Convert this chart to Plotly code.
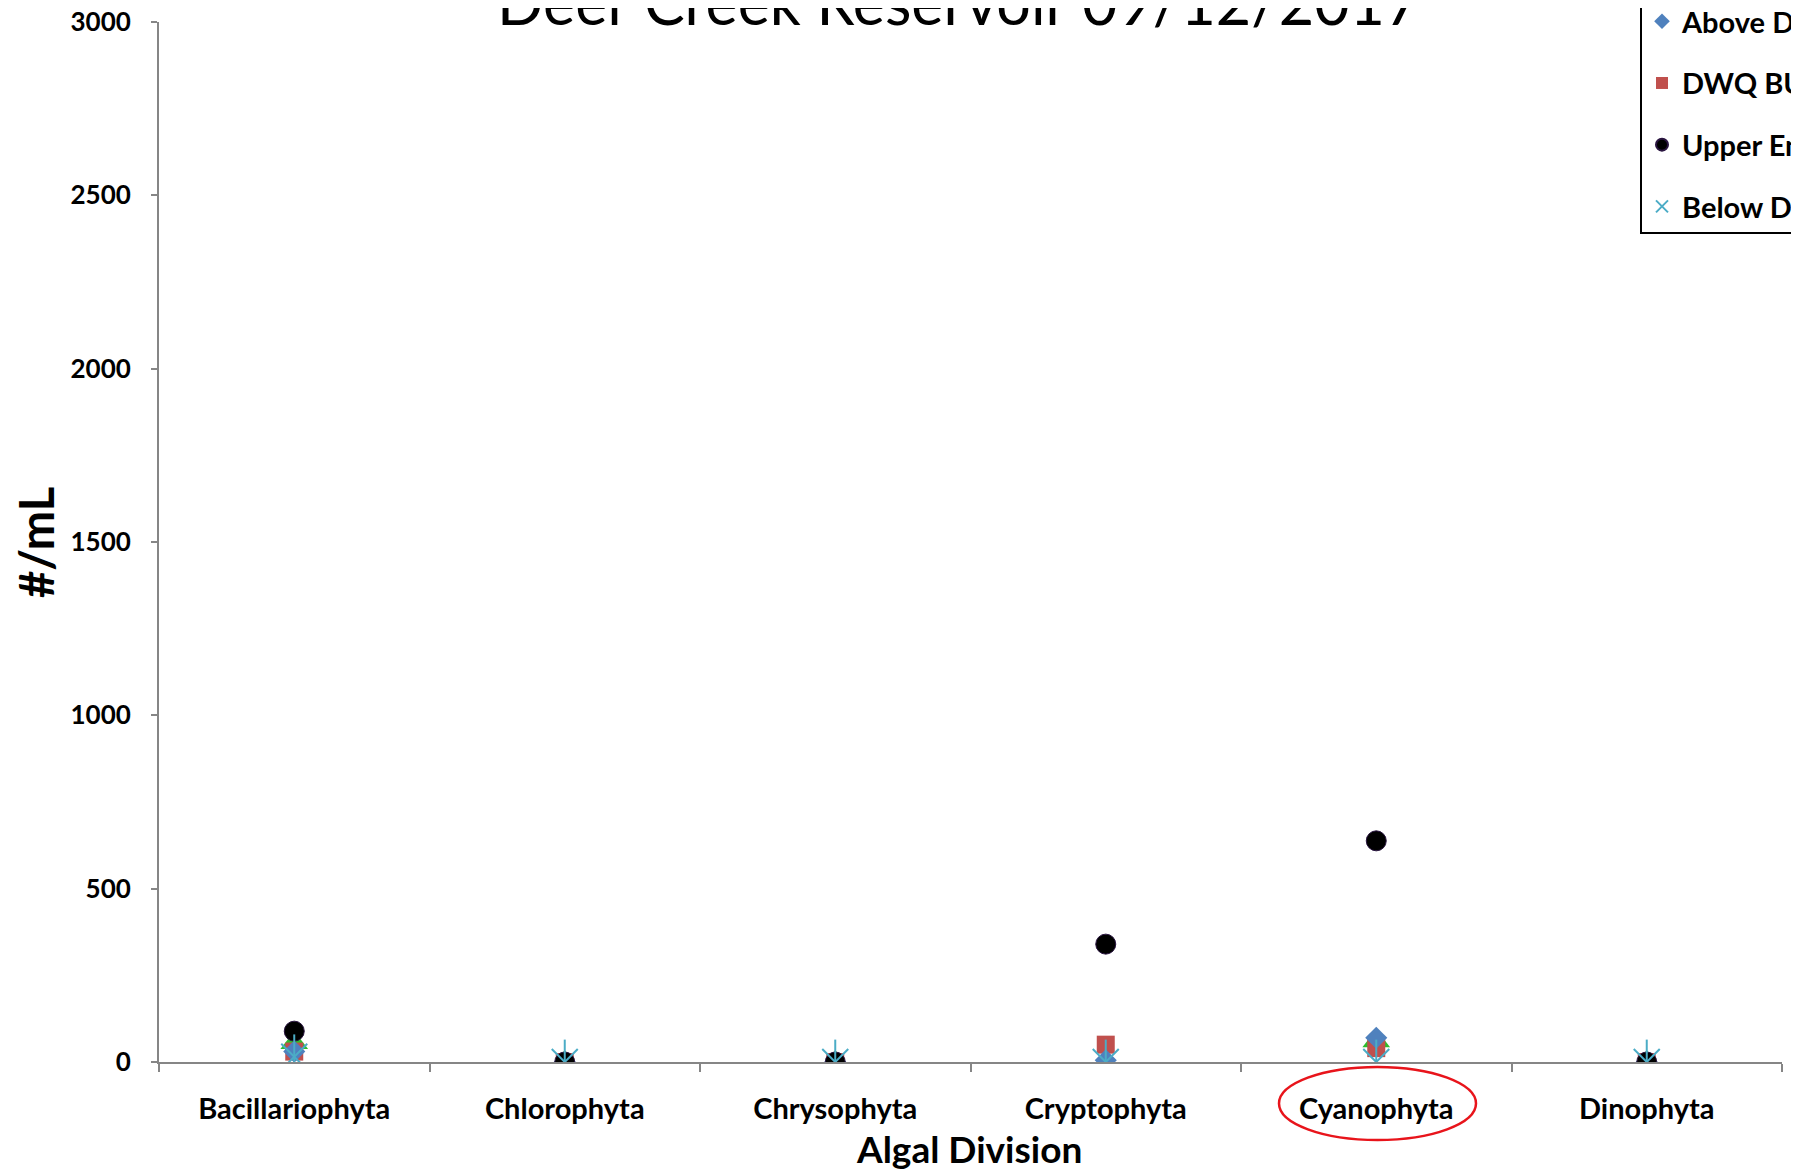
import plotly.graph_objects as go

categories = ["Bacillariophyta", "Chlorophyta", "Chrysophyta", "Cryptophyta", "Cyanophyta", "Dinophyta"]
above_dam = [30, 0, 0, 5, 70, 0]
dwq_bug = [30, 0, 0, 50, 40, 0]
unlabeled_site = [55, 0, 0, 0, 60, 0]
upper_end = [89, 0, 0, 340, 638, 0]
below_dam = [15, 0, 0, 0, 0, 0]

title_text = "Deer Creek Reservoir 09/12/2017"
x_title = "Algal Division"
y_title = "#/mL"
y_ticks = [0, 500, 1000, 1500, 2000, 2500, 3000]

FONT = "Lato"
OFF = 8  # default page body margin
W, H = 1799 - OFF, 1170 - OFF
L, R, T, B = 151, 17, 14, 108
PW, PH = W - L - R, H - T - B


def px(xr):
    return (xr - OFF - L) / PW


def py(yr):
    return (H - B - (yr - OFF)) / PH


fig = go.Figure()

fig.add_trace(go.Scatter(x=categories, y=unlabeled_site, mode="markers", name="Middle",
                         marker=dict(symbol="triangle-up", size=24, color="#2DBE2D"),
                         showlegend=False))
fig.add_trace(go.Scatter(x=categories, y=dwq_bug, mode="markers", name="DWQ BUG",
                         marker=dict(symbol="square", size=18, color="#C0504D"),
                         legendrank=2, legendgroup="b"))
fig.add_trace(go.Scatter(x=categories, y=above_dam, mode="markers", name="Above Dam",
                         marker=dict(symbol="diamond", size=17, color="#4F81BD"),
                         legendrank=1, legendgroup="a"))
fig.add_trace(go.Scatter(x=categories, y=upper_end, mode="markers", name="Upper End",
                         marker=dict(symbol="circle", size=20, color="#000000",
                                     line=dict(color="#2a1540", width=1)),
                         legendrank=3, legendgroup="c"))
fig.add_trace(go.Scatter(x=categories, y=below_dam, mode="markers", name="Below Dam",
                         marker=dict(symbol="x-thin-open", size=26, color="#4BACC6",
                                     line=dict(color="#4BACC6", width=2)),
                         legendrank=4, legendgroup="d"))
fig.add_trace(go.Scatter(x=categories, y=below_dam, mode="markers", name="Below Dam",
                         marker=dict(symbol="line-ns-open", size=32, color="#4BACC6",
                                     line=dict(color="#4BACC6", width=2)),
                         showlegend=False, legendgroup="d"))

fig.add_annotation(text=title_text, xref="paper", yref="paper",
                   x=px(958), y=py(40),
                   xanchor="center", yanchor="bottom", showarrow=False,
                   font=dict(family=FONT, size=61, color="#000000"))

fig.add_annotation(text=x_title, xref="paper", yref="paper",
                   x=px(969), y=py(1148), xanchor="center", yanchor="middle",
                   showarrow=False,
                   font=dict(family=FONT, size=37, color="#000000", weight="bold"))

fig.add_annotation(text=y_title, xref="paper", yref="paper", textangle=-90,
                   x=px(36), y=py(543), xanchor="center", yanchor="middle",
                   showarrow=False,
                   font=dict(family=FONT, size=47, color="#000000", weight="bold"))

fig.add_shape(type="circle", xref="paper", yref="paper",
              x0=px(1279), x1=px(1476), y0=py(1140), y1=py(1067),
              line=dict(color="#E8141B", width=2.5))

fig.update_layout(
    width=W, height=H,
    margin=dict(l=L, r=R, t=T, b=B, autoexpand=False),
    paper_bgcolor="white", plot_bgcolor="white",
    showlegend=True,
    legend=dict(x=px(1640), xanchor="left",
                y=1.027, yanchor="top",
                bordercolor="#000000", borderwidth=2, bgcolor="white",
                font=dict(family=FONT, size=29, color="#000000", weight="bold"),
                tracegroupgap=21, itemsizing="constant"),
    xaxis=dict(type="category", range=[-0.5, 5.5], tickson="boundaries",
               ticks="outside", ticklen=8, tickcolor="#868686", tickwidth=2,
               showline=True, linecolor="#868686", linewidth=2,
               showgrid=False, zeroline=False,
               tickfont=dict(family=FONT, size=29, color="#000000", weight="bold"),
               ticklabelstandoff=20, ticklabeloverflow="allow"),
    yaxis=dict(range=[0, 3000], tickvals=y_ticks, ticks="outside", ticklen=6,
               tickcolor="#868686", tickwidth=2,
               showline=True, linecolor="#868686", linewidth=2,
               showgrid=False, zeroline=False,
               tickfont=dict(family=FONT, size=26, color="#000000", weight="bold"),
               ticklabelstandoff=15, ticklabeloverflow="allow"),
)

fig.write_html("out.html")
